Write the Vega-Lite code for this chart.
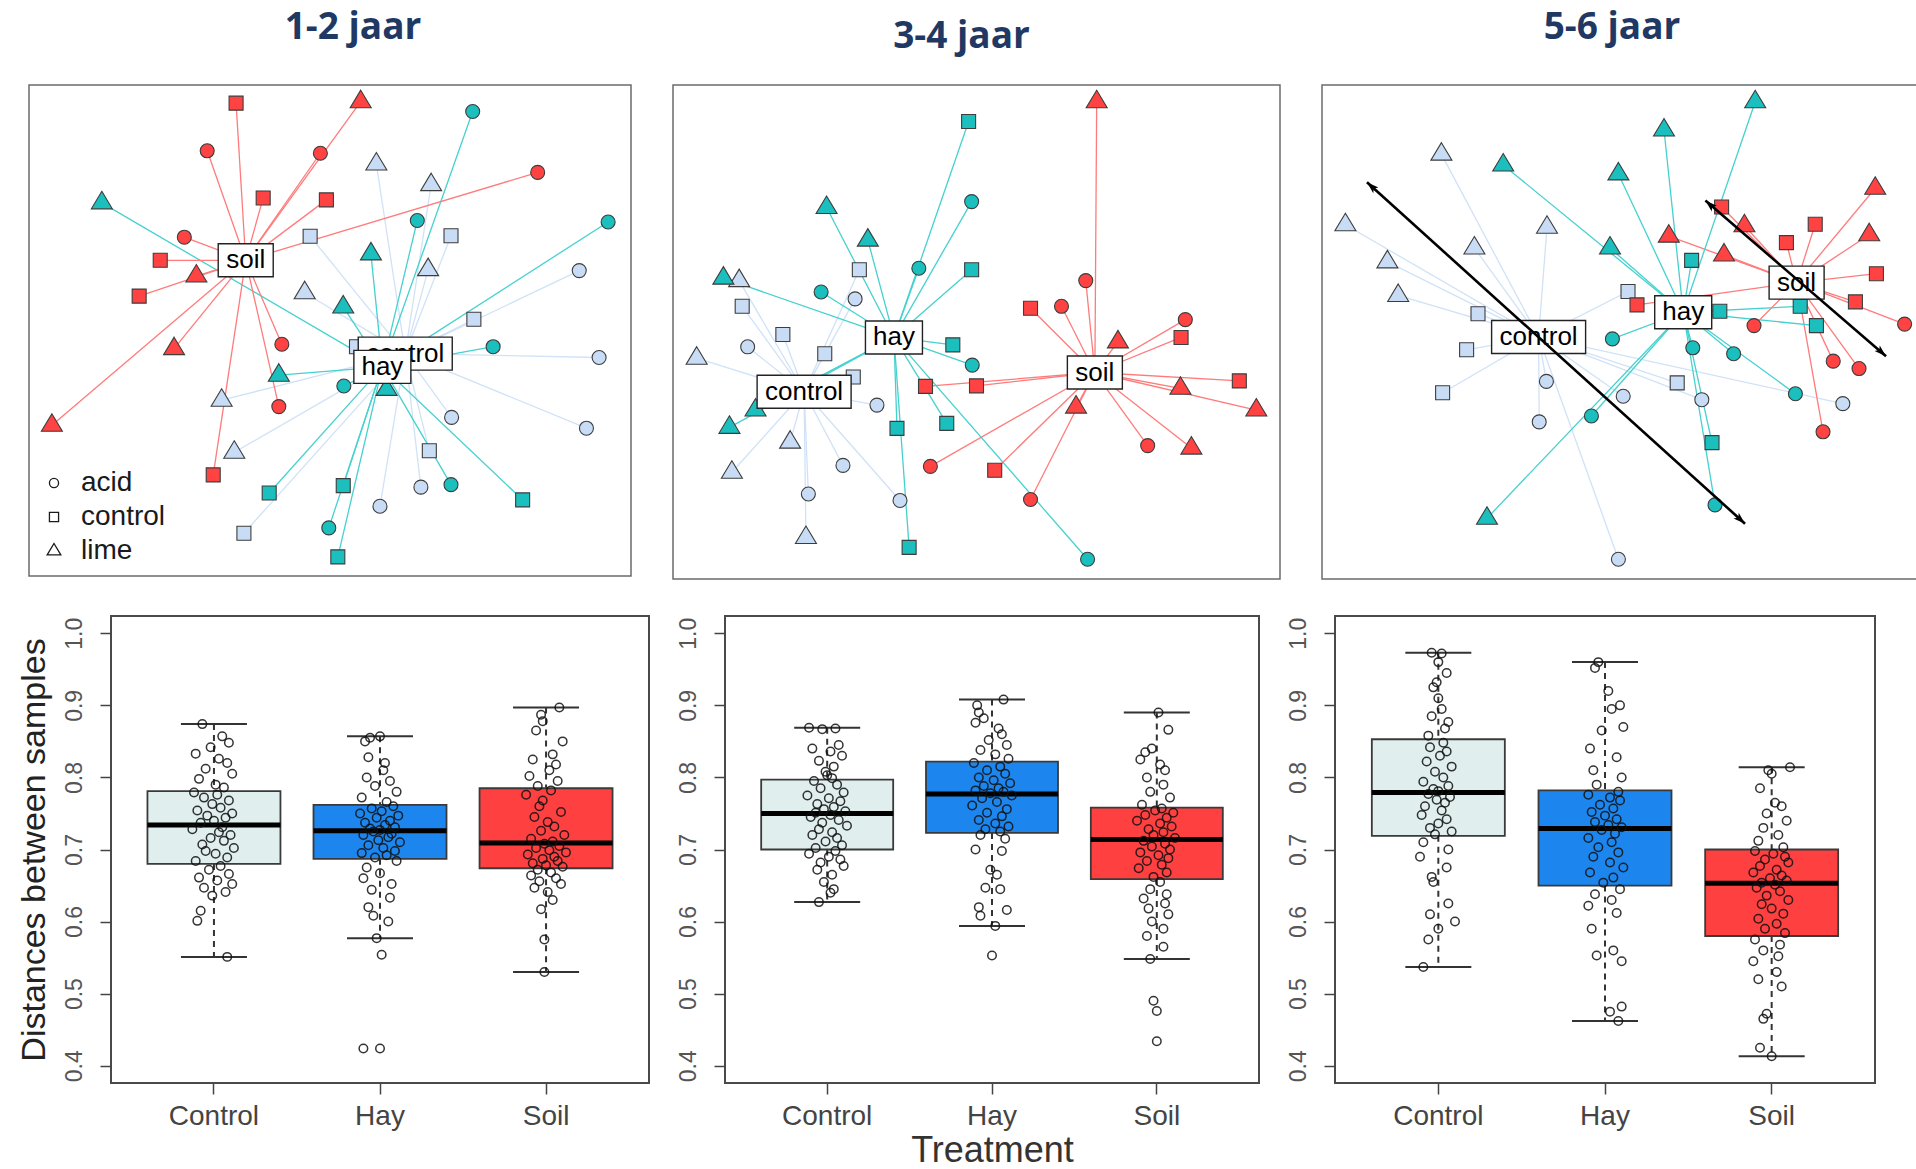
{
"$schema": "https://vega.github.io/schema/vega-lite/v6.json",
"background": "white",
"padding": {"left": 16, "top": 8, "right": 0, "bottom": 0},
"config": {
  "font": "Liberation Sans",
  "axis": {"grid": false},
  "axisX": {"domain": false, "tickSize": 11, "tickColor": "#444", "tickWidth": 1.5, "labelFontSize": 28, "labelColor": "#444", "labelPadding": 8, "labelAngle": 0, "titleFontSize": 36, "titleColor": "#333", "titleFontWeight": "normal", "titlePadding": 3},
  "axisY": {"domain": false, "tickSize": 11, "tickColor": "#444", "tickWidth": 1.5, "labelFontSize": 23, "labelColor": "#555", "labelPadding": 14, "labelAngle": -90, "titleFontSize": 34, "titleColor": "#222", "titleFontWeight": "normal", "titlePadding": 12}
},
"datasets": {
  "o1": [
    {"tr":"control","ty":"lime","x":57.7,"y":83.9},{"tr":"control","ty":"lime","x":66.8,"y":79.7},{"tr":"control","ty":"control","x":46.7,"y":69.2},{"tr":"control","ty":"control","x":70.1,"y":69.3},{"tr":"control","ty":"lime","x":66.3,"y":62.4},{"tr":"control","ty":"acid","x":91.4,"y":62.2},{"tr":"control","ty":"lime","x":45.8,"y":57.7},{"tr":"control","ty":"control","x":73.9,"y":52.3},{"tr":"control","ty":"acid","x":94.7,"y":44.5},{"tr":"control","ty":"control","x":54.4,"y":46.7},{"tr":"control","ty":"lime","x":32.0,"y":35.8},{"tr":"control","ty":"acid","x":70.2,"y":32.3},{"tr":"control","ty":"acid","x":92.6,"y":30.1},{"tr":"control","ty":"control","x":66.5,"y":25.5},{"tr":"control","ty":"lime","x":34.1,"y":25.2},{"tr":"control","ty":"acid","x":65.1,"y":18.1},{"tr":"control","ty":"acid","x":58.3,"y":14.2},{"tr":"control","ty":"control","x":35.7,"y":8.7},
    {"tr":"hay","ty":"acid","x":73.7,"y":94.6},{"tr":"hay","ty":"lime","x":12.1,"y":76.0},{"tr":"hay","ty":"acid","x":64.5,"y":72.4},{"tr":"hay","ty":"acid","x":96.2,"y":72.1},{"tr":"hay","ty":"lime","x":56.8,"y":65.6},{"tr":"hay","ty":"lime","x":52.2,"y":54.8},{"tr":"hay","ty":"acid","x":77.1,"y":46.7},{"tr":"hay","ty":"lime","x":41.5,"y":40.9},{"tr":"hay","ty":"acid","x":52.3,"y":38.7},{"tr":"hay","ty":"lime","x":59.4,"y":38.0},{"tr":"hay","ty":"control","x":39.9,"y":16.9},{"tr":"hay","ty":"control","x":52.2,"y":18.4},{"tr":"hay","ty":"acid","x":70.1,"y":18.6},{"tr":"hay","ty":"control","x":82.0,"y":15.5},{"tr":"hay","ty":"acid","x":49.8,"y":9.8},{"tr":"hay","ty":"control","x":51.3,"y":3.9},
    {"tr":"soil","ty":"control","x":34.4,"y":96.3},{"tr":"soil","ty":"lime","x":55.1,"y":96.6},{"tr":"soil","ty":"acid","x":29.6,"y":86.6},{"tr":"soil","ty":"acid","x":48.4,"y":86.1},{"tr":"soil","ty":"acid","x":84.5,"y":82.2},{"tr":"soil","ty":"control","x":38.9,"y":77.0},{"tr":"soil","ty":"control","x":49.4,"y":76.6},{"tr":"soil","ty":"acid","x":25.8,"y":69.0},{"tr":"soil","ty":"control","x":21.8,"y":64.3},{"tr":"soil","ty":"lime","x":27.8,"y":61.1},{"tr":"soil","ty":"control","x":18.3,"y":57.0},{"tr":"soil","ty":"lime","x":24.1,"y":46.3},{"tr":"soil","ty":"acid","x":42.0,"y":47.2},{"tr":"soil","ty":"acid","x":41.5,"y":34.5},{"tr":"soil","ty":"lime","x":3.8,"y":30.7},{"tr":"soil","ty":"control","x":30.6,"y":20.6}
  ],
  "c1": [{"tr":"control","x":62.5,"y":45.3},{"tr":"hay","x":58.7,"y":42.6},{"tr":"soil","x":36.0,"y":64.3}],
  "o2": [
    {"tr":"control","ty":"lime","x":10.9,"y":60.4},{"tr":"control","ty":"control","x":30.7,"y":62.6},{"tr":"control","ty":"acid","x":30.0,"y":56.7},{"tr":"control","ty":"control","x":11.4,"y":55.2},{"tr":"control","ty":"control","x":18.1,"y":49.5},{"tr":"control","ty":"acid","x":12.3,"y":47.0},{"tr":"control","ty":"control","x":25.0,"y":45.6},{"tr":"control","ty":"lime","x":3.9,"y":44.7},{"tr":"control","ty":"control","x":29.7,"y":40.9},{"tr":"control","ty":"acid","x":33.6,"y":35.2},{"tr":"control","ty":"lime","x":19.3,"y":27.7},{"tr":"control","ty":"acid","x":28.0,"y":23.0},{"tr":"control","ty":"lime","x":9.7,"y":21.6},{"tr":"control","ty":"acid","x":22.3,"y":17.2},{"tr":"control","ty":"acid","x":37.4,"y":15.9},{"tr":"control","ty":"lime","x":21.9,"y":8.4},
    {"tr":"hay","ty":"control","x":48.7,"y":92.6},{"tr":"hay","ty":"acid","x":49.2,"y":76.4},{"tr":"hay","ty":"lime","x":25.3,"y":75.2},{"tr":"hay","ty":"lime","x":32.1,"y":68.6},{"tr":"hay","ty":"acid","x":40.5,"y":62.9},{"tr":"hay","ty":"control","x":49.2,"y":62.6},{"tr":"hay","ty":"lime","x":8.3,"y":60.9},{"tr":"hay","ty":"acid","x":24.4,"y":58.1},{"tr":"hay","ty":"control","x":46.1,"y":47.4},{"tr":"hay","ty":"acid","x":49.3,"y":43.3},{"tr":"hay","ty":"lime","x":13.6,"y":34.2},{"tr":"hay","ty":"lime","x":9.3,"y":30.7},{"tr":"hay","ty":"control","x":36.9,"y":30.5},{"tr":"hay","ty":"control","x":45.1,"y":31.5},{"tr":"hay","ty":"control","x":38.9,"y":6.4},{"tr":"hay","ty":"acid","x":68.3,"y":4.0},
    {"tr":"soil","ty":"lime","x":69.8,"y":96.6},{"tr":"soil","ty":"acid","x":68.0,"y":60.4},{"tr":"soil","ty":"control","x":58.9,"y":54.8},{"tr":"soil","ty":"acid","x":64.0,"y":55.2},{"tr":"soil","ty":"acid","x":84.4,"y":52.5},{"tr":"soil","ty":"control","x":83.7,"y":48.9},{"tr":"soil","ty":"lime","x":73.3,"y":48.0},{"tr":"soil","ty":"control","x":41.6,"y":39.0},{"tr":"soil","ty":"control","x":50.0,"y":39.1},{"tr":"soil","ty":"control","x":93.3,"y":40.1},{"tr":"soil","ty":"lime","x":83.6,"y":38.6},{"tr":"soil","ty":"lime","x":66.4,"y":34.8},{"tr":"soil","ty":"lime","x":96.1,"y":34.2},{"tr":"soil","ty":"acid","x":78.2,"y":27.0},{"tr":"soil","ty":"lime","x":85.4,"y":26.5},{"tr":"soil","ty":"acid","x":42.4,"y":22.8},{"tr":"soil","ty":"control","x":53.0,"y":22.0},{"tr":"soil","ty":"acid","x":58.9,"y":16.1}
  ],
  "c2": [{"tr":"control","x":21.6,"y":37.9},{"tr":"hay","x":36.4,"y":48.9},{"tr":"soil","x":69.5,"y":41.8}],
  "o3": [
    {"tr":"control","ty":"lime","x":19.9,"y":86.0},{"tr":"control","ty":"lime","x":3.9,"y":71.7},{"tr":"control","ty":"lime","x":37.5,"y":71.2},{"tr":"control","ty":"lime","x":25.4,"y":67.0},{"tr":"control","ty":"lime","x":10.9,"y":64.2},{"tr":"control","ty":"lime","x":12.7,"y":57.4},{"tr":"control","ty":"control","x":26.0,"y":53.7},{"tr":"control","ty":"control","x":24.1,"y":46.4},{"tr":"control","ty":"control","x":20.1,"y":37.7},{"tr":"control","ty":"control","x":51.0,"y":58.2},{"tr":"control","ty":"control","x":59.2,"y":39.7},{"tr":"control","ty":"acid","x":37.4,"y":40.0},{"tr":"control","ty":"acid","x":50.2,"y":37.0},{"tr":"control","ty":"acid","x":63.3,"y":36.3},{"tr":"control","ty":"acid","x":36.2,"y":31.8},{"tr":"control","ty":"acid","x":86.8,"y":35.5},{"tr":"control","ty":"acid","x":49.4,"y":4.0},
    {"tr":"soil","ty":"control","x":66.6,"y":75.3},{"tr":"soil","ty":"lime","x":92.2,"y":79.1},{"tr":"soil","ty":"lime","x":70.4,"y":71.5},{"tr":"soil","ty":"control","x":82.2,"y":71.8},{"tr":"soil","ty":"lime","x":57.8,"y":69.4},{"tr":"soil","ty":"lime","x":91.2,"y":69.7},{"tr":"soil","ty":"control","x":77.4,"y":68.1},{"tr":"soil","ty":"lime","x":67.0,"y":65.6},{"tr":"soil","ty":"control","x":92.4,"y":61.8},{"tr":"soil","ty":"control","x":52.5,"y":55.5},{"tr":"soil","ty":"control","x":88.9,"y":56.1},{"tr":"soil","ty":"acid","x":72.0,"y":51.3},{"tr":"soil","ty":"acid","x":97.1,"y":51.6},{"tr":"soil","ty":"acid","x":85.2,"y":44.1},{"tr":"soil","ty":"acid","x":89.5,"y":42.6},{"tr":"soil","ty":"acid","x":83.5,"y":29.8},
    {"tr":"hay","ty":"lime","x":72.2,"y":96.6},{"tr":"hay","ty":"lime","x":57.0,"y":90.9},{"tr":"hay","ty":"lime","x":30.2,"y":83.8},{"tr":"hay","ty":"lime","x":49.4,"y":82.0},{"tr":"hay","ty":"lime","x":48.0,"y":67.0},{"tr":"hay","ty":"control","x":61.6,"y":64.5},{"tr":"hay","ty":"control","x":66.3,"y":54.2},{"tr":"hay","ty":"control","x":79.7,"y":55.2},{"tr":"hay","ty":"control","x":82.4,"y":51.3},{"tr":"hay","ty":"acid","x":48.4,"y":48.6},{"tr":"hay","ty":"acid","x":61.8,"y":46.8},{"tr":"hay","ty":"acid","x":68.6,"y":45.6},{"tr":"hay","ty":"acid","x":78.9,"y":37.5},{"tr":"hay","ty":"acid","x":44.9,"y":33.0},{"tr":"hay","ty":"control","x":65.0,"y":27.6},{"tr":"hay","ty":"acid","x":65.5,"y":15.0},{"tr":"hay","ty":"lime","x":27.5,"y":12.3}
  ],
  "c3": [{"tr":"control","x":36.1,"y":49.0},{"tr":"hay","x":60.2,"y":54.0},{"tr":"soil","x":79.1,"y":60.0}],
  "a3": [{"x":7.5,"y":80.3,"x2":70.5,"y2":11.2},{"x":63.9,"y":76.6,"x2":94.0,"y2":45.1}],
  "s1": [{"t":"Control","lower":0.551,"q1":0.680,"median":0.734,"q3":0.781,"upper":0.874},{"t":"Hay","lower":0.577,"q1":0.687,"median":0.726,"q3":0.762,"upper":0.857},{"t":"Soil","lower":0.530,"q1":0.674,"median":0.709,"q3":0.785,"upper":0.897}],
  "s2": [{"t":"Control","lower":0.627,"q1":0.700,"median":0.750,"q3":0.797,"upper":0.869},{"t":"Hay","lower":0.594,"q1":0.723,"median":0.777,"q3":0.822,"upper":0.908},{"t":"Soil","lower":0.548,"q1":0.659,"median":0.714,"q3":0.758,"upper":0.890}],
  "s3": [{"t":"Control","lower":0.537,"q1":0.719,"median":0.779,"q3":0.853,"upper":0.973},{"t":"Hay","lower":0.462,"q1":0.650,"median":0.729,"q3":0.782,"upper":0.960},{"t":"Soil","lower":0.413,"q1":0.580,"median":0.653,"q3":0.700,"upper":0.814}],
  "d1": [
    {"t":"Control","v":0.874,"j":-0.07},{"t":"Control","v":0.857,"j":0.05},{"t":"Control","v":0.848,"j":0.09},{"t":"Control","v":0.842,"j":-0.02},{"t":"Control","v":0.833,"j":-0.11},{"t":"Control","v":0.826,"j":0.03},{"t":"Control","v":0.82,"j":0.08},{"t":"Control","v":0.812,"j":-0.05},{"t":"Control","v":0.805,"j":0.11},{"t":"Control","v":0.798,"j":-0.09},{"t":"Control","v":0.79,"j":0.01},{"t":"Control","v":0.786,"j":0.06},{"t":"Control","v":0.779,"j":-0.12},{"t":"Control","v":0.776,"j":0.02},{"t":"Control","v":0.772,"j":-0.06},{"t":"Control","v":0.768,"j":0.09},{"t":"Control","v":0.763,"j":-0.01},{"t":"Control","v":0.758,"j":0.04},{"t":"Control","v":0.754,"j":-0.1},{"t":"Control","v":0.75,"j":0.11},{"t":"Control","v":0.747,"j":-0.04},{"t":"Control","v":0.744,"j":0.07},{"t":"Control","v":0.74,"j":0.0},{"t":"Control","v":0.737,"j":-0.08},{"t":"Control","v":0.731,"j":0.05},{"t":"Control","v":0.728,"j":-0.13},{"t":"Control","v":0.724,"j":0.03},{"t":"Control","v":0.72,"j":0.1},{"t":"Control","v":0.716,"j":-0.02},{"t":"Control","v":0.712,"j":0.06},{"t":"Control","v":0.707,"j":-0.07},{"t":"Control","v":0.702,"j":0.12},{"t":"Control","v":0.698,"j":-0.05},{"t":"Control","v":0.694,"j":0.01},{"t":"Control","v":0.689,"j":0.08},{"t":"Control","v":0.684,"j":-0.11},{"t":"Control","v":0.677,"j":0.04},{"t":"Control","v":0.672,"j":-0.03},{"t":"Control","v":0.666,"j":0.09},{"t":"Control","v":0.661,"j":-0.09},{"t":"Control","v":0.657,"j":0.02},{"t":"Control","v":0.652,"j":0.11},{"t":"Control","v":0.647,"j":-0.06},{"t":"Control","v":0.641,"j":0.07},{"t":"Control","v":0.636,"j":-0.01},{"t":"Control","v":0.615,"j":-0.08},{"t":"Control","v":0.601,"j":-0.1},{"t":"Control","v":0.551,"j":0.08},
    {"t":"Hay","v":0.857,"j":0.0},{"t":"Hay","v":0.855,"j":-0.06},{"t":"Hay","v":0.85,"j":-0.09},{"t":"Hay","v":0.828,"j":-0.07},{"t":"Hay","v":0.82,"j":0.03},{"t":"Hay","v":0.81,"j":0.02},{"t":"Hay","v":0.8,"j":-0.08},{"t":"Hay","v":0.795,"j":0.06},{"t":"Hay","v":0.788,"j":-0.03},{"t":"Hay","v":0.78,"j":0.1},{"t":"Hay","v":0.772,"j":-0.11},{"t":"Hay","v":0.766,"j":0.04},{"t":"Hay","v":0.76,"j":0.08},{"t":"Hay","v":0.757,"j":-0.05},{"t":"Hay","v":0.753,"j":0.01},{"t":"Hay","v":0.75,"j":-0.12},{"t":"Hay","v":0.747,"j":0.11},{"t":"Hay","v":0.744,"j":-0.02},{"t":"Hay","v":0.74,"j":0.06},{"t":"Hay","v":0.737,"j":-0.09},{"t":"Hay","v":0.734,"j":0.03},{"t":"Hay","v":0.731,"j":0.09},{"t":"Hay","v":0.729,"j":-0.06},{"t":"Hay","v":0.727,"j":0.0},{"t":"Hay","v":0.725,"j":-0.04},{"t":"Hay","v":0.722,"j":0.07},{"t":"Hay","v":0.72,"j":-0.1},{"t":"Hay","v":0.717,"j":0.05},{"t":"Hay","v":0.713,"j":-0.01},{"t":"Hay","v":0.71,"j":0.12},{"t":"Hay","v":0.706,"j":-0.07},{"t":"Hay","v":0.702,"j":0.02},{"t":"Hay","v":0.698,"j":0.09},{"t":"Hay","v":0.695,"j":-0.11},{"t":"Hay","v":0.692,"j":0.04},{"t":"Hay","v":0.689,"j":-0.03},{"t":"Hay","v":0.684,"j":0.1},{"t":"Hay","v":0.675,"j":-0.08},{"t":"Hay","v":0.667,"j":0.0},{"t":"Hay","v":0.66,"j":-0.1},{"t":"Hay","v":0.652,"j":0.07},{"t":"Hay","v":0.644,"j":-0.05},{"t":"Hay","v":0.633,"j":0.06},{"t":"Hay","v":0.62,"j":-0.07},{"t":"Hay","v":0.608,"j":-0.04},{"t":"Hay","v":0.6,"j":0.05},{"t":"Hay","v":0.577,"j":-0.02},{"t":"Hay","v":0.554,"j":0.01},{"t":"Hay","v":0.424,"j":-0.1},{"t":"Hay","v":0.424,"j":0.0},
    {"t":"Soil","v":0.897,"j":0.08},{"t":"Soil","v":0.887,"j":-0.03},{"t":"Soil","v":0.878,"j":-0.02},{"t":"Soil","v":0.865,"j":-0.06},{"t":"Soil","v":0.85,"j":0.1},{"t":"Soil","v":0.832,"j":0.04},{"t":"Soil","v":0.825,"j":-0.08},{"t":"Soil","v":0.818,"j":0.06},{"t":"Soil","v":0.81,"j":0.02},{"t":"Soil","v":0.802,"j":-0.1},{"t":"Soil","v":0.795,"j":0.07},{"t":"Soil","v":0.788,"j":-0.05},{"t":"Soil","v":0.782,"j":0.03},{"t":"Soil","v":0.776,"j":-0.12},{"t":"Soil","v":0.768,"j":-0.02},{"t":"Soil","v":0.76,"j":-0.04},{"t":"Soil","v":0.752,"j":0.09},{"t":"Soil","v":0.745,"j":-0.07},{"t":"Soil","v":0.738,"j":0.01},{"t":"Soil","v":0.732,"j":0.05},{"t":"Soil","v":0.726,"j":-0.03},{"t":"Soil","v":0.72,"j":0.11},{"t":"Soil","v":0.715,"j":-0.09},{"t":"Soil","v":0.711,"j":0.04},{"t":"Soil","v":0.708,"j":-0.01},{"t":"Soil","v":0.705,"j":0.08},{"t":"Soil","v":0.702,"j":-0.06},{"t":"Soil","v":0.699,"j":0.02},{"t":"Soil","v":0.696,"j":0.12},{"t":"Soil","v":0.693,"j":-0.11},{"t":"Soil","v":0.69,"j":0.05},{"t":"Soil","v":0.687,"j":-0.02},{"t":"Soil","v":0.684,"j":0.07},{"t":"Soil","v":0.681,"j":-0.08},{"t":"Soil","v":0.678,"j":0.0},{"t":"Soil","v":0.676,"j":0.1},{"t":"Soil","v":0.672,"j":-0.05},{"t":"Soil","v":0.668,"j":0.03},{"t":"Soil","v":0.664,"j":-0.09},{"t":"Soil","v":0.66,"j":0.06},{"t":"Soil","v":0.656,"j":-0.04},{"t":"Soil","v":0.652,"j":0.09},{"t":"Soil","v":0.647,"j":-0.07},{"t":"Soil","v":0.641,"j":0.01},{"t":"Soil","v":0.63,"j":0.04},{"t":"Soil","v":0.617,"j":-0.03},{"t":"Soil","v":0.575,"j":-0.01},{"t":"Soil","v":0.53,"j":-0.01}
  ],
  "d2": [
    {"t":"Control","v":0.869,"j":-0.11},{"t":"Control","v":0.868,"j":0.05},{"t":"Control","v":0.867,"j":-0.03},{"t":"Control","v":0.845,"j":0.07},{"t":"Control","v":0.84,"j":-0.09},{"t":"Control","v":0.836,"j":0.02},{"t":"Control","v":0.83,"j":0.09},{"t":"Control","v":0.823,"j":-0.05},{"t":"Control","v":0.815,"j":0.04},{"t":"Control","v":0.808,"j":-0.01},{"t":"Control","v":0.803,"j":0.0},{"t":"Control","v":0.799,"j":0.03},{"t":"Control","v":0.795,"j":-0.08},{"t":"Control","v":0.79,"j":0.06},{"t":"Control","v":0.785,"j":-0.04},{"t":"Control","v":0.779,"j":0.1},{"t":"Control","v":0.775,"j":-0.12},{"t":"Control","v":0.771,"j":0.01},{"t":"Control","v":0.767,"j":0.08},{"t":"Control","v":0.763,"j":-0.06},{"t":"Control","v":0.759,"j":0.04},{"t":"Control","v":0.756,"j":-0.02},{"t":"Control","v":0.753,"j":0.11},{"t":"Control","v":0.751,"j":-0.07},{"t":"Control","v":0.748,"j":0.02},{"t":"Control","v":0.745,"j":-0.1},{"t":"Control","v":0.741,"j":0.07},{"t":"Control","v":0.737,"j":-0.03},{"t":"Control","v":0.733,"j":0.12},{"t":"Control","v":0.728,"j":-0.05},{"t":"Control","v":0.724,"j":0.03},{"t":"Control","v":0.72,"j":-0.09},{"t":"Control","v":0.716,"j":0.06},{"t":"Control","v":0.711,"j":-0.01},{"t":"Control","v":0.706,"j":0.09},{"t":"Control","v":0.702,"j":-0.07},{"t":"Control","v":0.698,"j":0.05},{"t":"Control","v":0.694,"j":-0.11},{"t":"Control","v":0.69,"j":0.01},{"t":"Control","v":0.686,"j":0.08},{"t":"Control","v":0.682,"j":-0.04},{"t":"Control","v":0.677,"j":0.1},{"t":"Control","v":0.672,"j":-0.06},{"t":"Control","v":0.665,"j":0.03},{"t":"Control","v":0.655,"j":-0.02},{"t":"Control","v":0.645,"j":0.04},{"t":"Control","v":0.64,"j":0.02},{"t":"Control","v":0.627,"j":-0.05},
    {"t":"Hay","v":0.908,"j":0.07},{"t":"Hay","v":0.9,"j":-0.09},{"t":"Hay","v":0.89,"j":-0.08},{"t":"Hay","v":0.882,"j":-0.05},{"t":"Hay","v":0.876,"j":-0.1},{"t":"Hay","v":0.868,"j":0.04},{"t":"Hay","v":0.86,"j":0.06},{"t":"Hay","v":0.852,"j":-0.02},{"t":"Hay","v":0.845,"j":0.09},{"t":"Hay","v":0.838,"j":-0.07},{"t":"Hay","v":0.832,"j":0.02},{"t":"Hay","v":0.826,"j":0.1},{"t":"Hay","v":0.82,"j":-0.11},{"t":"Hay","v":0.815,"j":0.05},{"t":"Hay","v":0.81,"j":-0.03},{"t":"Hay","v":0.805,"j":0.08},{"t":"Hay","v":0.8,"j":-0.08},{"t":"Hay","v":0.796,"j":0.01},{"t":"Hay","v":0.792,"j":0.11},{"t":"Hay","v":0.788,"j":-0.05},{"t":"Hay","v":0.785,"j":0.04},{"t":"Hay","v":0.782,"j":-0.1},{"t":"Hay","v":0.78,"j":0.07},{"t":"Hay","v":0.778,"j":-0.01},{"t":"Hay","v":0.775,"j":0.12},{"t":"Hay","v":0.771,"j":-0.06},{"t":"Hay","v":0.766,"j":0.03},{"t":"Hay","v":0.761,"j":-0.12},{"t":"Hay","v":0.756,"j":0.09},{"t":"Hay","v":0.751,"j":-0.03},{"t":"Hay","v":0.746,"j":0.06},{"t":"Hay","v":0.741,"j":-0.08},{"t":"Hay","v":0.736,"j":0.02},{"t":"Hay","v":0.732,"j":0.1},{"t":"Hay","v":0.728,"j":-0.04},{"t":"Hay","v":0.725,"j":0.05},{"t":"Hay","v":0.72,"j":-0.07},{"t":"Hay","v":0.715,"j":0.08},{"t":"Hay","v":0.7,"j":-0.1},{"t":"Hay","v":0.698,"j":0.06},{"t":"Hay","v":0.672,"j":-0.01},{"t":"Hay","v":0.665,"j":0.03},{"t":"Hay","v":0.647,"j":-0.04},{"t":"Hay","v":0.645,"j":0.05},{"t":"Hay","v":0.62,"j":-0.08},{"t":"Hay","v":0.616,"j":0.09},{"t":"Hay","v":0.608,"j":-0.07},{"t":"Hay","v":0.594,"j":0.02},{"t":"Hay","v":0.553,"j":0.0},
    {"t":"Soil","v":0.89,"j":0.01},{"t":"Soil","v":0.866,"j":0.07},{"t":"Soil","v":0.84,"j":-0.03},{"t":"Soil","v":0.835,"j":-0.07},{"t":"Soil","v":0.825,"j":-0.1},{"t":"Soil","v":0.818,"j":0.02},{"t":"Soil","v":0.81,"j":0.05},{"t":"Soil","v":0.8,"j":-0.06},{"t":"Soil","v":0.79,"j":0.04},{"t":"Soil","v":0.78,"j":-0.04},{"t":"Soil","v":0.772,"j":0.08},{"t":"Soil","v":0.762,"j":-0.09},{"t":"Soil","v":0.757,"j":0.03},{"t":"Soil","v":0.754,"j":-0.01},{"t":"Soil","v":0.751,"j":0.1},{"t":"Soil","v":0.748,"j":-0.07},{"t":"Soil","v":0.744,"j":0.06},{"t":"Soil","v":0.74,"j":-0.12},{"t":"Soil","v":0.736,"j":0.02},{"t":"Soil","v":0.732,"j":0.09},{"t":"Soil","v":0.728,"j":-0.05},{"t":"Soil","v":0.724,"j":0.04},{"t":"Soil","v":0.72,"j":-0.02},{"t":"Soil","v":0.716,"j":0.11},{"t":"Soil","v":0.712,"j":-0.08},{"t":"Soil","v":0.708,"j":0.05},{"t":"Soil","v":0.704,"j":-0.03},{"t":"Soil","v":0.7,"j":0.08},{"t":"Soil","v":0.696,"j":-0.1},{"t":"Soil","v":0.692,"j":0.01},{"t":"Soil","v":0.688,"j":0.07},{"t":"Soil","v":0.684,"j":-0.06},{"t":"Soil","v":0.679,"j":0.03},{"t":"Soil","v":0.674,"j":-0.11},{"t":"Soil","v":0.668,"j":0.06},{"t":"Soil","v":0.662,"j":-0.02},{"t":"Soil","v":0.655,"j":0.02},{"t":"Soil","v":0.645,"j":-0.04},{"t":"Soil","v":0.638,"j":0.06},{"t":"Soil","v":0.632,"j":-0.08},{"t":"Soil","v":0.625,"j":0.05},{"t":"Soil","v":0.618,"j":-0.05},{"t":"Soil","v":0.61,"j":0.07},{"t":"Soil","v":0.6,"j":-0.03},{"t":"Soil","v":0.59,"j":0.04},{"t":"Soil","v":0.58,"j":-0.06},{"t":"Soil","v":0.565,"j":0.04},{"t":"Soil","v":0.548,"j":-0.04},{"t":"Soil","v":0.49,"j":-0.02},{"t":"Soil","v":0.476,"j":0.0},{"t":"Soil","v":0.434,"j":0.0}
  ],
  "d3": [
    {"t":"Control","v":0.973,"j":-0.04},{"t":"Control","v":0.972,"j":0.02},{"t":"Control","v":0.96,"j":0.0},{"t":"Control","v":0.945,"j":0.05},{"t":"Control","v":0.932,"j":-0.01},{"t":"Control","v":0.925,"j":-0.03},{"t":"Control","v":0.91,"j":0.0},{"t":"Control","v":0.895,"j":0.02},{"t":"Control","v":0.885,"j":-0.04},{"t":"Control","v":0.877,"j":0.06},{"t":"Control","v":0.868,"j":0.04},{"t":"Control","v":0.858,"j":-0.06},{"t":"Control","v":0.848,"j":0.03},{"t":"Control","v":0.842,"j":-0.05},{"t":"Control","v":0.836,"j":0.05},{"t":"Control","v":0.83,"j":0.01},{"t":"Control","v":0.822,"j":-0.07},{"t":"Control","v":0.815,"j":0.08},{"t":"Control","v":0.808,"j":-0.02},{"t":"Control","v":0.8,"j":0.03},{"t":"Control","v":0.794,"j":-0.09},{"t":"Control","v":0.788,"j":0.06},{"t":"Control","v":0.784,"j":-0.03},{"t":"Control","v":0.781,"j":0.0},{"t":"Control","v":0.777,"j":-0.06},{"t":"Control","v":0.773,"j":0.07},{"t":"Control","v":0.769,"j":-0.01},{"t":"Control","v":0.765,"j":0.04},{"t":"Control","v":0.76,"j":-0.08},{"t":"Control","v":0.754,"j":0.02},{"t":"Control","v":0.748,"j":-0.1},{"t":"Control","v":0.742,"j":0.05},{"t":"Control","v":0.736,"j":0.0},{"t":"Control","v":0.73,"j":-0.05},{"t":"Control","v":0.725,"j":0.08},{"t":"Control","v":0.721,"j":-0.02},{"t":"Control","v":0.71,"j":-0.09},{"t":"Control","v":0.7,"j":0.06},{"t":"Control","v":0.69,"j":-0.11},{"t":"Control","v":0.675,"j":0.05},{"t":"Control","v":0.662,"j":-0.04},{"t":"Control","v":0.655,"j":-0.03},{"t":"Control","v":0.625,"j":0.06},{"t":"Control","v":0.61,"j":-0.05},{"t":"Control","v":0.6,"j":0.1},{"t":"Control","v":0.59,"j":0.0},{"t":"Control","v":0.575,"j":-0.06},{"t":"Control","v":0.537,"j":-0.09},
    {"t":"Hay","v":0.96,"j":-0.04},{"t":"Hay","v":0.952,"j":-0.06},{"t":"Hay","v":0.92,"j":0.02},{"t":"Hay","v":0.9,"j":0.09},{"t":"Hay","v":0.895,"j":0.04},{"t":"Hay","v":0.87,"j":0.11},{"t":"Hay","v":0.865,"j":-0.02},{"t":"Hay","v":0.84,"j":-0.09},{"t":"Hay","v":0.828,"j":0.07},{"t":"Hay","v":0.81,"j":-0.07},{"t":"Hay","v":0.8,"j":0.1},{"t":"Hay","v":0.79,"j":-0.05},{"t":"Hay","v":0.78,"j":0.08},{"t":"Hay","v":0.776,"j":-0.1},{"t":"Hay","v":0.772,"j":0.03},{"t":"Hay","v":0.768,"j":0.09},{"t":"Hay","v":0.762,"j":-0.03},{"t":"Hay","v":0.757,"j":0.05},{"t":"Hay","v":0.752,"j":-0.08},{"t":"Hay","v":0.747,"j":0.0},{"t":"Hay","v":0.742,"j":0.07},{"t":"Hay","v":0.738,"j":-0.06},{"t":"Hay","v":0.734,"j":0.02},{"t":"Hay","v":0.731,"j":0.1},{"t":"Hay","v":0.727,"j":-0.02},{"t":"Hay","v":0.722,"j":0.06},{"t":"Hay","v":0.716,"j":-0.1},{"t":"Hay","v":0.71,"j":0.04},{"t":"Hay","v":0.703,"j":-0.04},{"t":"Hay","v":0.696,"j":0.08},{"t":"Hay","v":0.69,"j":-0.07},{"t":"Hay","v":0.682,"j":0.03},{"t":"Hay","v":0.675,"j":0.11},{"t":"Hay","v":0.668,"j":-0.09},{"t":"Hay","v":0.661,"j":0.05},{"t":"Hay","v":0.654,"j":-0.01},{"t":"Hay","v":0.645,"j":0.09},{"t":"Hay","v":0.638,"j":-0.06},{"t":"Hay","v":0.63,"j":0.04},{"t":"Hay","v":0.622,"j":-0.1},{"t":"Hay","v":0.612,"j":0.07},{"t":"Hay","v":0.59,"j":-0.08},{"t":"Hay","v":0.56,"j":0.05},{"t":"Hay","v":0.553,"j":-0.05},{"t":"Hay","v":0.545,"j":0.1},{"t":"Hay","v":0.482,"j":0.1},{"t":"Hay","v":0.475,"j":0.03},{"t":"Hay","v":0.462,"j":0.08},
    {"t":"Soil","v":0.814,"j":0.11},{"t":"Soil","v":0.81,"j":-0.02},{"t":"Soil","v":0.805,"j":0.0},{"t":"Soil","v":0.785,"j":-0.07},{"t":"Soil","v":0.765,"j":0.02},{"t":"Soil","v":0.76,"j":0.06},{"t":"Soil","v":0.75,"j":-0.03},{"t":"Soil","v":0.74,"j":0.09},{"t":"Soil","v":0.73,"j":-0.05},{"t":"Soil","v":0.72,"j":0.04},{"t":"Soil","v":0.712,"j":-0.08},{"t":"Soil","v":0.703,"j":0.07},{"t":"Soil","v":0.698,"j":-0.1},{"t":"Soil","v":0.694,"j":0.01},{"t":"Soil","v":0.69,"j":0.08},{"t":"Soil","v":0.686,"j":-0.04},{"t":"Soil","v":0.682,"j":0.1},{"t":"Soil","v":0.677,"j":-0.07},{"t":"Soil","v":0.672,"j":0.03},{"t":"Soil","v":0.668,"j":-0.11},{"t":"Soil","v":0.664,"j":0.06},{"t":"Soil","v":0.66,"j":-0.01},{"t":"Soil","v":0.657,"j":0.09},{"t":"Soil","v":0.654,"j":-0.06},{"t":"Soil","v":0.651,"j":0.02},{"t":"Soil","v":0.647,"j":-0.09},{"t":"Soil","v":0.642,"j":0.05},{"t":"Soil","v":0.636,"j":-0.03},{"t":"Soil","v":0.63,"j":0.1},{"t":"Soil","v":0.624,"j":-0.06},{"t":"Soil","v":0.618,"j":0.0},{"t":"Soil","v":0.611,"j":0.07},{"t":"Soil","v":0.604,"j":-0.08},{"t":"Soil","v":0.597,"j":0.03},{"t":"Soil","v":0.59,"j":-0.04},{"t":"Soil","v":0.584,"j":0.08},{"t":"Soil","v":0.575,"j":-0.1},{"t":"Soil","v":0.568,"j":0.05},{"t":"Soil","v":0.56,"j":-0.05},{"t":"Soil","v":0.552,"j":0.04},{"t":"Soil","v":0.545,"j":-0.11},{"t":"Soil","v":0.53,"j":0.03},{"t":"Soil","v":0.52,"j":-0.08},{"t":"Soil","v":0.51,"j":0.06},{"t":"Soil","v":0.472,"j":-0.03},{"t":"Soil","v":0.465,"j":-0.05},{"t":"Soil","v":0.425,"j":-0.07},{"t":"Soil","v":0.413,"j":0.0}
  ]
},
"resolve": {"scale": {"x": "independent", "y": "independent", "fill": "independent", "stroke": "independent", "shape": "independent", "xOffset": "independent"}, "legend": {"shape": "independent", "fill": "independent", "stroke": "independent"}},
"spacing": 35,
"vconcat": [
{
  "spacing": 40,
  "resolve": {"scale": {"x": "independent", "y": "independent", "fill": "independent", "stroke": "independent", "shape": "independent"}, "legend": {"shape": "independent", "fill": "independent", "stroke": "independent"}},
  "hconcat": [
  {
    "width": 602, "height": 491,
    "title": {"text": "1-2 jaar", "font": "Open Sans", "fontSize": 37, "fontWeight": "bold", "color": "#1F3864", "anchor": "middle", "baseline": "alphabetic", "dx": 23, "offset": 9},
    "view": {"stroke": "#6b6b6b", "strokeWidth": 1.5},
    "encoding": {
      "x": {"field": "x", "type": "quantitative", "scale": {"domain": [0, 100], "nice": false, "zero": false}, "axis": null},
      "y": {"field": "y", "type": "quantitative", "scale": {"domain": [0, 100], "nice": false, "zero": false}, "axis": null}
    },
    "layer": [
      {"data": {"name": "o1"}, "transform": [{"lookup": "tr", "from": {"data": {"values": [{"tr":"control","cx":62.5,"cy":45.3},{"tr":"hay","cx":58.7,"cy":42.6},{"tr":"soil","cx":36.0,"cy":64.3}]}, "key": "tr", "fields": ["cx", "cy"]}}],
       "mark": {"type": "rule", "strokeWidth": 1.3},
       "encoding": {"x2": {"field": "cx"}, "y2": {"field": "cy"}, "stroke": {"field": "tr", "type": "nominal", "scale": {"domain": ["control", "hay", "soil"], "range": ["#D0E2F7", "#45D1CF", "#FF7B7B"]}, "legend": null}}},
      {"data": {"name": "o1"},
       "mark": {"type": "point", "filled": true, "size": 400, "stroke": "#3d3d3d", "strokeWidth": 1.1, "opacity": 1},
       "encoding": {
         "fill": {"field": "tr", "type": "nominal", "scale": {"domain": ["control", "hay", "soil"], "range": ["#C8DCF6", "#1BBFBD", "#FF4242"]}, "legend": null},
         "shape": {"field": "ty", "type": "nominal", "scale": {"domain": ["acid", "control", "lime"], "range": ["M0.7,0A0.7,0.7,0,1,1,-0.7,0A0.7,0.7,0,1,1,0.7,0Z", "M-0.7,-0.7L0.7,-0.7L0.7,0.7L-0.7,0.7Z", "M0,-1.15L1.05,0.6L-1.05,0.6Z"]},
           "legend": {"orient": "bottom-left", "title": null, "offset": 11, "padding": 0, "labelFontSize": 28, "labelColor": "#1a1a1a", "symbolSize": 170, "symbolFillColor": "white", "symbolStrokeColor": "#1a1a1a", "symbolStrokeWidth": 1.3, "symbolOpacity": 1, "rowPadding": 6, "labelOffset": 13}}
       }},
      {"data": {"name": "c1"}, "transform": [{"filter": {"field": "tr", "equal": "control"}}],
       "mark": {"type": "point", "shape": "M-4.7,-1.65L4.7,-1.65L4.7,1.65L-4.7,1.65Z", "size": 400, "filled": true, "fill": "white", "stroke": "#222", "strokeWidth": 1.4, "opacity": 1}},
      {"data": {"name": "c1"}, "transform": [{"filter": {"field": "tr", "equal": "control"}}],
       "mark": {"type": "text", "fontSize": 26, "color": "black"}, "encoding": {"text": {"field": "tr"}}},
      {"data": {"name": "c1"}, "transform": [{"filter": {"field": "tr", "equal": "hay"}}],
       "mark": {"type": "point", "shape": "M-2.85,-1.65L2.85,-1.65L2.85,1.65L-2.85,1.65Z", "size": 400, "filled": true, "fill": "white", "stroke": "#222", "strokeWidth": 1.4, "opacity": 1}},
      {"data": {"name": "c1"}, "transform": [{"filter": {"field": "tr", "equal": "hay"}}],
       "mark": {"type": "text", "fontSize": 26, "color": "black"}, "encoding": {"text": {"field": "tr"}}},
      {"data": {"name": "c1"}, "transform": [{"filter": {"field": "tr", "equal": "soil"}}],
       "mark": {"type": "point", "shape": "M-2.75,-1.65L2.75,-1.65L2.75,1.65L-2.75,1.65Z", "size": 400, "filled": true, "fill": "white", "stroke": "#222", "strokeWidth": 1.4, "opacity": 1}},
      {"data": {"name": "c1"}, "transform": [{"filter": {"field": "tr", "equal": "soil"}}],
       "mark": {"type": "text", "fontSize": 26, "color": "black"}, "encoding": {"text": {"field": "tr"}}}
    ]
  },
  {
    "width": 607, "height": 494,
    "title": {"text": "3-4 jaar", "font": "Open Sans", "fontSize": 37, "fontWeight": "bold", "color": "#1F3864", "anchor": "middle", "baseline": "alphabetic", "dx": -15, "offset": 0},
    "view": {"stroke": "#6b6b6b", "strokeWidth": 1.5},
    "encoding": {
      "x": {"field": "x", "type": "quantitative", "scale": {"domain": [0, 100], "nice": false, "zero": false}, "axis": null},
      "y": {"field": "y", "type": "quantitative", "scale": {"domain": [0, 100], "nice": false, "zero": false}, "axis": null}
    },
    "layer": [
      {"data": {"name": "o2"}, "transform": [{"lookup": "tr", "from": {"data": {"values": [{"tr":"control","cx":21.6,"cy":37.9},{"tr":"hay","cx":36.4,"cy":48.9},{"tr":"soil","cx":69.5,"cy":41.8}]}, "key": "tr", "fields": ["cx", "cy"]}}],
       "mark": {"type": "rule", "strokeWidth": 1.3},
       "encoding": {"x2": {"field": "cx"}, "y2": {"field": "cy"}, "stroke": {"field": "tr", "type": "nominal", "scale": {"domain": ["control", "hay", "soil"], "range": ["#D0E2F7", "#45D1CF", "#FF7B7B"]}, "legend": null}}},
      {"data": {"name": "o2"},
       "mark": {"type": "point", "filled": true, "size": 400, "stroke": "#3d3d3d", "strokeWidth": 1.1, "opacity": 1},
       "encoding": {
         "fill": {"field": "tr", "type": "nominal", "scale": {"domain": ["control", "hay", "soil"], "range": ["#C8DCF6", "#1BBFBD", "#FF4242"]}, "legend": null},
         "shape": {"field": "ty", "type": "nominal", "scale": {"domain": ["acid", "control", "lime"], "range": ["M0.7,0A0.7,0.7,0,1,1,-0.7,0A0.7,0.7,0,1,1,0.7,0Z", "M-0.7,-0.7L0.7,-0.7L0.7,0.7L-0.7,0.7Z", "M0,-1.15L1.05,0.6L-1.05,0.6Z"]}, "legend": null}
       }},
      {"data": {"name": "c2"}, "transform": [{"filter": {"field": "tr", "equal": "control"}}],
       "mark": {"type": "point", "shape": "M-4.7,-1.65L4.7,-1.65L4.7,1.65L-4.7,1.65Z", "size": 400, "filled": true, "fill": "white", "stroke": "#222", "strokeWidth": 1.4, "opacity": 1}},
      {"data": {"name": "c2"}, "transform": [{"filter": {"field": "tr", "equal": "control"}}],
       "mark": {"type": "text", "fontSize": 26, "color": "black"}, "encoding": {"text": {"field": "tr"}}},
      {"data": {"name": "c2"}, "transform": [{"filter": {"field": "tr", "equal": "hay"}}],
       "mark": {"type": "point", "shape": "M-2.85,-1.65L2.85,-1.65L2.85,1.65L-2.85,1.65Z", "size": 400, "filled": true, "fill": "white", "stroke": "#222", "strokeWidth": 1.4, "opacity": 1}},
      {"data": {"name": "c2"}, "transform": [{"filter": {"field": "tr", "equal": "hay"}}],
       "mark": {"type": "text", "fontSize": 26, "color": "black"}, "encoding": {"text": {"field": "tr"}}},
      {"data": {"name": "c2"}, "transform": [{"filter": {"field": "tr", "equal": "soil"}}],
       "mark": {"type": "point", "shape": "M-2.75,-1.65L2.75,-1.65L2.75,1.65L-2.75,1.65Z", "size": 400, "filled": true, "fill": "white", "stroke": "#222", "strokeWidth": 1.4, "opacity": 1}},
      {"data": {"name": "c2"}, "transform": [{"filter": {"field": "tr", "equal": "soil"}}],
       "mark": {"type": "text", "fontSize": 26, "color": "black"}, "encoding": {"text": {"field": "tr"}}}
    ]
  },
  {
    "width": 596, "height": 494,
    "title": {"text": "5-6 jaar", "font": "Open Sans", "fontSize": 37, "fontWeight": "bold", "color": "#1F3864", "anchor": "middle", "baseline": "alphabetic", "dx": -8, "offset": 9},
    "view": {"stroke": "#6b6b6b", "strokeWidth": 1.5},
    "encoding": {
      "x": {"field": "x", "type": "quantitative", "scale": {"domain": [0, 99.33], "nice": false, "zero": false}, "axis": null},
      "y": {"field": "y", "type": "quantitative", "scale": {"domain": [0, 100], "nice": false, "zero": false}, "axis": null}
    },
    "layer": [
      {"data": {"name": "o3"}, "transform": [{"lookup": "tr", "from": {"data": {"values": [{"tr":"control","cx":36.1,"cy":49.0},{"tr":"hay","cx":60.2,"cy":54.0},{"tr":"soil","cx":79.1,"cy":60.0}]}, "key": "tr", "fields": ["cx", "cy"]}}],
       "mark": {"type": "rule", "strokeWidth": 1.3},
       "encoding": {"x2": {"field": "cx"}, "y2": {"field": "cy"}, "stroke": {"field": "tr", "type": "nominal", "scale": {"domain": ["control", "hay", "soil"], "range": ["#D0E2F7", "#45D1CF", "#FF7B7B"]}, "legend": null}}},
      {"data": {"name": "o3"},
       "mark": {"type": "point", "filled": true, "size": 400, "stroke": "#3d3d3d", "strokeWidth": 1.1, "opacity": 1},
       "encoding": {
         "fill": {"field": "tr", "type": "nominal", "scale": {"domain": ["control", "hay", "soil"], "range": ["#C8DCF6", "#1BBFBD", "#FF4242"]}, "legend": null},
         "shape": {"field": "ty", "type": "nominal", "scale": {"domain": ["acid", "control", "lime"], "range": ["M0.7,0A0.7,0.7,0,1,1,-0.7,0A0.7,0.7,0,1,1,0.7,0Z", "M-0.7,-0.7L0.7,-0.7L0.7,0.7L-0.7,0.7Z", "M0,-1.15L1.05,0.6L-1.05,0.6Z"]}, "legend": null}
       }},
      {"data": {"name": "c3"}, "transform": [{"filter": {"field": "tr", "equal": "control"}}],
       "mark": {"type": "point", "shape": "M-4.7,-1.65L4.7,-1.65L4.7,1.65L-4.7,1.65Z", "size": 400, "filled": true, "fill": "white", "stroke": "#222", "strokeWidth": 1.4, "opacity": 1}},
      {"data": {"name": "c3"}, "transform": [{"filter": {"field": "tr", "equal": "control"}}],
       "mark": {"type": "text", "fontSize": 26, "color": "black"}, "encoding": {"text": {"field": "tr"}}},
      {"data": {"name": "c3"}, "transform": [{"filter": {"field": "tr", "equal": "hay"}}],
       "mark": {"type": "point", "shape": "M-2.85,-1.65L2.85,-1.65L2.85,1.65L-2.85,1.65Z", "size": 400, "filled": true, "fill": "white", "stroke": "#222", "strokeWidth": 1.4, "opacity": 1}},
      {"data": {"name": "c3"}, "transform": [{"filter": {"field": "tr", "equal": "hay"}}],
       "mark": {"type": "text", "fontSize": 26, "color": "black"}, "encoding": {"text": {"field": "tr"}}},
      {"data": {"name": "c3"}, "transform": [{"filter": {"field": "tr", "equal": "soil"}}],
       "mark": {"type": "point", "shape": "M-2.75,-1.65L2.75,-1.65L2.75,1.65L-2.75,1.65Z", "size": 400, "filled": true, "fill": "white", "stroke": "#222", "strokeWidth": 1.4, "opacity": 1}},
      {"data": {"name": "c3"}, "transform": [{"filter": {"field": "tr", "equal": "soil"}}],
       "mark": {"type": "text", "fontSize": 26, "color": "black"}, "encoding": {"text": {"field": "tr"}}},
      {"data": {"name": "a3"}, "mark": {"type": "rule", "strokeWidth": 2.6, "color": "black"}, "encoding": {"x2": {"field": "x2"}, "y2": {"field": "y2"}}},
      {"data": {"name": "a3"}, "mark": {"type": "point", "shape": "M0,0L0.55,1.7L0,1.3L-0.55,1.7Z", "size": 196, "filled": true, "color": "black", "opacity": 1, "angle": 132},
       "encoding": {"x": {"field": "x2", "type": "quantitative", "axis": null}, "y": {"field": "y2", "type": "quantitative", "axis": null}}},
      {"data": {"name": "a3"}, "mark": {"type": "point", "shape": "M0,0L0.55,1.7L0,1.3L-0.55,1.7Z", "size": 196, "filled": true, "color": "black", "opacity": 1, "angle": 312}}
    ]
  }
  ]
},
{
  "spacing": 76,
  "bounds": "flush",
  "resolve": {"scale": {"x": "independent", "y": "independent", "fill": "independent", "xOffset": "independent"}, "axis": {"x": "independent", "y": "independent"}},
  "hconcat": [
  {
    "width": 6, "height": 467,
    "view": {"stroke": null},
    "data": {"values": []},
    "mark": {"type": "point", "opacity": 0}
  },
  {
    "width": 538, "height": 467,
    "view": {"stroke": "#4a4a4a", "strokeWidth": 2},
    "encoding": {"x": {"field": "t", "type": "nominal", "scale": {"domain": ["Control", "Hay", "Soil"], "paddingInner": 0.2, "paddingOuter": 0.22}, "axis": {"title": null}}},
    "layer": [
      {"data": {"name": "s1"}, "mark": {"type": "rule", "strokeDash": [6, 5], "strokeWidth": 2, "color": "#333"},
       "encoding": {"y": {"field": "upper", "type": "quantitative", "scale": {"domain": [0.376, 1.024], "nice": false, "zero": false}, "axis": {"values": [0.4, 0.5, 0.6, 0.7, 0.8, 0.9, 1.0], "format": ".1f", "title": "Distances between samples"}}, "y2": {"field": "q3"}}},
      {"data": {"name": "s1"}, "mark": {"type": "rule", "strokeDash": [6, 5], "strokeWidth": 2, "color": "#333"},
       "encoding": {"y": {"field": "q1", "type": "quantitative", "axis": {"values": [0.4, 0.5, 0.6, 0.7, 0.8, 0.9, 1.0], "format": ".1f", "title": "Distances between samples"}}, "y2": {"field": "lower"}}},
      {"data": {"name": "s1"}, "mark": {"type": "tick", "size": 66, "thickness": 2, "color": "#333", "opacity": 1},
       "encoding": {"y": {"field": "upper", "type": "quantitative", "axis": {"values": [0.4, 0.5, 0.6, 0.7, 0.8, 0.9, 1.0], "format": ".1f", "title": "Distances between samples"}}}},
      {"data": {"name": "s1"}, "mark": {"type": "tick", "size": 66, "thickness": 2, "color": "#333", "opacity": 1},
       "encoding": {"y": {"field": "lower", "type": "quantitative", "axis": {"values": [0.4, 0.5, 0.6, 0.7, 0.8, 0.9, 1.0], "format": ".1f", "title": "Distances between samples"}}}},
      {"data": {"name": "s1"}, "mark": {"type": "bar", "width": 133, "stroke": "#3a3a3a", "strokeWidth": 1.8, "opacity": 1},
       "encoding": {"y": {"field": "q1", "type": "quantitative", "axis": {"values": [0.4, 0.5, 0.6, 0.7, 0.8, 0.9, 1.0], "format": ".1f", "title": "Distances between samples"}}, "y2": {"field": "q3"},
         "fill": {"field": "t", "type": "nominal", "scale": {"domain": ["Control", "Hay", "Soil"], "range": ["#E0EEEE", "#1C86EE", "#FF4040"]}, "legend": null}}},
      {"data": {"name": "s1"}, "mark": {"type": "tick", "size": 133, "thickness": 5, "color": "black", "opacity": 1},
       "encoding": {"y": {"field": "median", "type": "quantitative", "axis": {"values": [0.4, 0.5, 0.6, 0.7, 0.8, 0.9, 1.0], "format": ".1f", "title": "Distances between samples"}}}},
      {"data": {"name": "d1"}, "mark": {"type": "point", "size": 72, "stroke": "#111", "strokeWidth": 1.5, "opacity": 0.85},
       "encoding": {"y": {"field": "v", "type": "quantitative", "axis": {"values": [0.4, 0.5, 0.6, 0.7, 0.8, 0.9, 1.0], "format": ".1f", "title": "Distances between samples"}},
         "xOffset": {"field": "j", "type": "quantitative", "scale": {"domain": [-0.4, 0.4]}}}}
    ]
  },
  {
    "width": 534, "height": 467,
    "view": {"stroke": "#4a4a4a", "strokeWidth": 2},
    "encoding": {"x": {"field": "t", "type": "nominal", "scale": {"domain": ["Control", "Hay", "Soil"], "paddingInner": 0.2, "paddingOuter": 0.22}, "axis": {"title": "Treatment"}}},
    "layer": [
      {"data": {"name": "s2"}, "mark": {"type": "rule", "strokeDash": [6, 5], "strokeWidth": 2, "color": "#333"},
       "encoding": {"y": {"field": "upper", "type": "quantitative", "scale": {"domain": [0.376, 1.024], "nice": false, "zero": false}, "axis": {"values": [0.4, 0.5, 0.6, 0.7, 0.8, 0.9, 1.0], "format": ".1f", "title": null}}, "y2": {"field": "q3"}}},
      {"data": {"name": "s2"}, "mark": {"type": "rule", "strokeDash": [6, 5], "strokeWidth": 2, "color": "#333"},
       "encoding": {"y": {"field": "q1", "type": "quantitative", "axis": {"values": [0.4, 0.5, 0.6, 0.7, 0.8, 0.9, 1.0], "format": ".1f", "title": null}}, "y2": {"field": "lower"}}},
      {"data": {"name": "s2"}, "mark": {"type": "tick", "size": 66, "thickness": 2, "color": "#333", "opacity": 1},
       "encoding": {"y": {"field": "upper", "type": "quantitative", "axis": {"values": [0.4, 0.5, 0.6, 0.7, 0.8, 0.9, 1.0], "format": ".1f", "title": null}}}},
      {"data": {"name": "s2"}, "mark": {"type": "tick", "size": 66, "thickness": 2, "color": "#333", "opacity": 1},
       "encoding": {"y": {"field": "lower", "type": "quantitative", "axis": {"values": [0.4, 0.5, 0.6, 0.7, 0.8, 0.9, 1.0], "format": ".1f", "title": null}}}},
      {"data": {"name": "s2"}, "mark": {"type": "bar", "width": 132, "stroke": "#3a3a3a", "strokeWidth": 1.8, "opacity": 1},
       "encoding": {"y": {"field": "q1", "type": "quantitative", "axis": {"values": [0.4, 0.5, 0.6, 0.7, 0.8, 0.9, 1.0], "format": ".1f", "title": null}}, "y2": {"field": "q3"},
         "fill": {"field": "t", "type": "nominal", "scale": {"domain": ["Control", "Hay", "Soil"], "range": ["#E0EEEE", "#1C86EE", "#FF4040"]}, "legend": null}}},
      {"data": {"name": "s2"}, "mark": {"type": "tick", "size": 132, "thickness": 5, "color": "black", "opacity": 1},
       "encoding": {"y": {"field": "median", "type": "quantitative", "axis": {"values": [0.4, 0.5, 0.6, 0.7, 0.8, 0.9, 1.0], "format": ".1f", "title": null}}}},
      {"data": {"name": "d2"}, "mark": {"type": "point", "size": 72, "stroke": "#111", "strokeWidth": 1.5, "opacity": 0.85},
       "encoding": {"y": {"field": "v", "type": "quantitative", "axis": {"values": [0.4, 0.5, 0.6, 0.7, 0.8, 0.9, 1.0], "format": ".1f", "title": null}},
         "xOffset": {"field": "j", "type": "quantitative", "scale": {"domain": [-0.4, 0.4]}}}}
    ]
  },
  {
    "width": 540, "height": 467,
    "view": {"stroke": "#4a4a4a", "strokeWidth": 2},
    "encoding": {"x": {"field": "t", "type": "nominal", "scale": {"domain": ["Control", "Hay", "Soil"], "paddingInner": 0.2, "paddingOuter": 0.22}, "axis": {"title": null}}},
    "layer": [
      {"data": {"name": "s3"}, "mark": {"type": "rule", "strokeDash": [6, 5], "strokeWidth": 2, "color": "#333"},
       "encoding": {"y": {"field": "upper", "type": "quantitative", "scale": {"domain": [0.376, 1.024], "nice": false, "zero": false}, "axis": {"values": [0.4, 0.5, 0.6, 0.7, 0.8, 0.9, 1.0], "format": ".1f", "title": null}}, "y2": {"field": "q3"}}},
      {"data": {"name": "s3"}, "mark": {"type": "rule", "strokeDash": [6, 5], "strokeWidth": 2, "color": "#333"},
       "encoding": {"y": {"field": "q1", "type": "quantitative", "axis": {"values": [0.4, 0.5, 0.6, 0.7, 0.8, 0.9, 1.0], "format": ".1f", "title": null}}, "y2": {"field": "lower"}}},
      {"data": {"name": "s3"}, "mark": {"type": "tick", "size": 66, "thickness": 2, "color": "#333", "opacity": 1},
       "encoding": {"y": {"field": "upper", "type": "quantitative", "axis": {"values": [0.4, 0.5, 0.6, 0.7, 0.8, 0.9, 1.0], "format": ".1f", "title": null}}}},
      {"data": {"name": "s3"}, "mark": {"type": "tick", "size": 66, "thickness": 2, "color": "#333", "opacity": 1},
       "encoding": {"y": {"field": "lower", "type": "quantitative", "axis": {"values": [0.4, 0.5, 0.6, 0.7, 0.8, 0.9, 1.0], "format": ".1f", "title": null}}}},
      {"data": {"name": "s3"}, "mark": {"type": "bar", "width": 133, "stroke": "#3a3a3a", "strokeWidth": 1.8, "opacity": 1},
       "encoding": {"y": {"field": "q1", "type": "quantitative", "axis": {"values": [0.4, 0.5, 0.6, 0.7, 0.8, 0.9, 1.0], "format": ".1f", "title": null}}, "y2": {"field": "q3"},
         "fill": {"field": "t", "type": "nominal", "scale": {"domain": ["Control", "Hay", "Soil"], "range": ["#E0EEEE", "#1C86EE", "#FF4040"]}, "legend": null}}},
      {"data": {"name": "s3"}, "mark": {"type": "tick", "size": 133, "thickness": 5, "color": "black", "opacity": 1},
       "encoding": {"y": {"field": "median", "type": "quantitative", "axis": {"values": [0.4, 0.5, 0.6, 0.7, 0.8, 0.9, 1.0], "format": ".1f", "title": null}}}},
      {"data": {"name": "d3"}, "mark": {"type": "point", "size": 72, "stroke": "#111", "strokeWidth": 1.5, "opacity": 0.85},
       "encoding": {"y": {"field": "v", "type": "quantitative", "axis": {"values": [0.4, 0.5, 0.6, 0.7, 0.8, 0.9, 1.0], "format": ".1f", "title": null}},
         "xOffset": {"field": "j", "type": "quantitative", "scale": {"domain": [-0.4, 0.4]}}}}
    ]
  }
  ]
}
]
}
